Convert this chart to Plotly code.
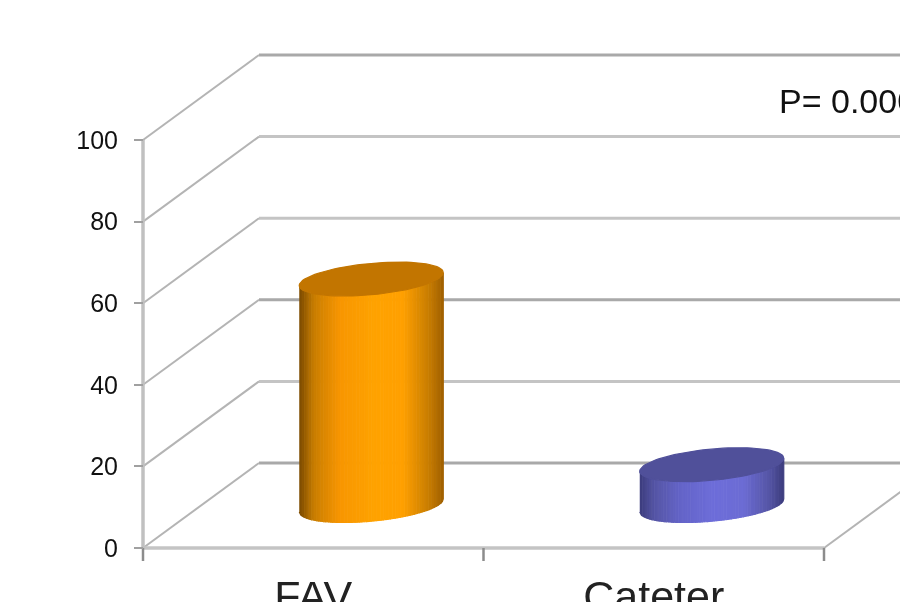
import numpy as np
import plotly.graph_objects as go

categories = ["FAV", "Cateter"]
values = [55.5, 10]
value_ticks = [0, 20, 40, 60, 80, 100]
dark_grid = [0, 40, 100]
side_colors = [
    [(122, 74, 0), (200, 125, 0), (248, 150, 0), (255, 163, 0), (255, 160, 0), (200, 125, 0), (160, 96, 0)],
    [(60, 60, 125), (85, 85, 165), (100, 100, 200), (110, 110, 218), (108, 108, 212), (85, 85, 165), (60, 60, 125)],
]
top_colors = ["#c27500", "#50509a"]
note = "P= 0.000"

# Scales of the oblique view, in axis units per screen pixel
PX_X = 1 / 340.5
PX_Y = 1 / 4.08
X_RANGE = [-143 * PX_X, 757 * PX_X]
Y_RANGE = [-54 * PX_Y, 548 * PX_Y]
DEPTH_X = 116 * PX_X
DEPTH_Y = 85 * PX_Y
RX = 72 * PX_X
TILT = 6.5 * PX_Y
RY = 15.7 * PX_Y
CENTER = [i + 0.5 + DEPTH_X / 2 for i in range(len(categories))]
BASE = DEPTH_Y / 2
N_STRIPS = 60

fig = go.Figure()


def line(xs, ys, color, width):
    fig.add_trace(go.Scatter(x=xs, y=ys, mode="lines", hoverinfo="skip", showlegend=False,
                             line=dict(color=color, width=width)))


def poly(xs, ys, color):
    fig.add_trace(go.Scatter(x=xs, y=ys, mode="lines", fill="toself", fillcolor=color, hoverinfo="skip",
                             showlegend=False, line=dict(color=color, width=1.2)))


n_cat = len(categories)
for v in value_ticks:
    shade = "#a9a9a9" if v in dark_grid else "#c4c4c4"
    line([DEPTH_X, n_cat + DEPTH_X], [v + DEPTH_Y, v + DEPTH_Y], shade, 3)
    line([0, DEPTH_X], [v, v + DEPTH_Y], "#b4b4b4", 2)
line([0, n_cat], [0, 0], "#c4c4c4", 3.5)
line([0, 0], [0, value_ticks[-1]], "#c0c0c0", 3.5)
line([n_cat, n_cat + DEPTH_X], [0, DEPTH_Y], "#b4b4b4", 2)


def lower_edge(u, level):
    return level + u * TILT - np.sqrt(np.clip(1 - u ** 2, 0, 1)) * RY


for cx, val, ramp, top in zip(CENTER, values, side_colors, top_colors):
    ramp = np.array(ramp, dtype=float)
    edges = np.linspace(-1, 1, N_STRIPS + 1)
    stops = np.array([0.0, 0.1, 0.28, 0.52, 0.72, 0.9, 1.0])
    for a, b in zip(edges[:-1], edges[1:]):
        us = np.linspace(a, b, 4)
        mid = ((a + b) / 2 + 1) / 2
        rgb = [int(np.interp(mid, stops, ramp[:, k])) for k in range(3)]
        xs = cx + us * RX
        low = lower_edge(us, BASE)
        high = lower_edge(us, BASE + val)
        poly(np.r_[xs, xs[::-1]], np.r_[low, high[::-1]], f"rgb({rgb[0]},{rgb[1]},{rgb[2]})")
    t = np.linspace(0, 2 * np.pi, 90)
    poly(cx + RX * np.cos(t), BASE + val + TILT * np.cos(t) + RY * np.sin(t), top)

fig.update_layout(
    width=900, height=602, margin=dict(l=0, r=0, t=0, b=0, autoexpand=False), autosize=False,
    paper_bgcolor="white", plot_bgcolor="white", showlegend=False,
    font=dict(family="Liberation Sans", color="#111111"),
    xaxis=dict(range=X_RANGE, domain=[0, 1], anchor="free", position=54 / 602, showgrid=False, zeroline=False,
               showline=False, tickmode="array", tickvals=[i + 0.5 for i in range(n_cat)], ticktext=categories,
               ticks="", tickfont=dict(size=43, color="#222222"), ticklabelstandoff=19),
    yaxis=dict(range=Y_RANGE, domain=[0, 1], anchor="free", position=143 / 900, showgrid=False, zeroline=False,
               showline=False, tickmode="array", tickvals=value_ticks, ticks="outside", ticklen=9, tickwidth=2,
               tickcolor="#a0a0a0", tickfont=dict(size=25, color="#111111"), ticklabelstandoff=11),
    annotations=[dict(text=note, xref="paper", yref="paper", x=777 / 900, y=1 - 101 / 602, xanchor="left",
                      yanchor="middle", showarrow=False, font=dict(size=34, color="#111111"))],
)
# category dividers on the floor edge
for i in range(n_cat + 1):
    line([i, i], [0, -13 * PX_Y], "#8c8c8c", 2.5)

fig.write_html(
    "out.html",
    config={"displayModeBar": False},
    post_script="document.body.style.margin='0';document.documentElement.style.overflow='hidden';"
                "document.querySelector('.plotly-graph-div').style.filter='blur(0.7px)';",
)
